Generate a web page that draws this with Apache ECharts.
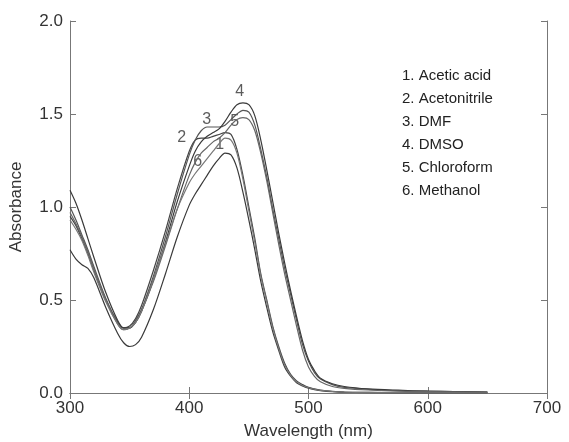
<!DOCTYPE html>
<html><head><meta charset="utf-8">
<script src="https://cdn.jsdelivr.net/npm/echarts@6/dist/echarts.min.js"></script>
<style>html,body{margin:0;padding:0;background:#fff}#c{width:569px;height:442px}</style>
</head><body><div id="c"></div>
<script>
const wavelengths = [300,305,310,315,320,330,340,345,350,355,360,370,380,390,400,405,410,415,420,425,430,435,440,445,450,455,460,465,470,475,480,485,490,495,500,505,510,520,530,550,575,600,650];
const aceticAcid = [0.77,0.72,0.69,0.67,0.62,0.46,0.32,0.27,0.25,0.26,0.30,0.45,0.64,0.84,1.01,1.07,1.12,1.17,1.22,1.26,1.29,1.28,1.21,1.08,0.93,0.77,0.60,0.46,0.33,0.23,0.14,0.09,0.055,0.038,0.026,0.018,0.013,0.007,0.004,0.002,0.001,0.001,0];
const acetonitrile = [0.95,0.90,0.83,0.75,0.66,0.50,0.38,0.35,0.36,0.40,0.47,0.66,0.87,1.10,1.30,1.36,1.37,1.37,1.38,1.39,1.40,1.39,1.31,1.17,1.00,0.83,0.64,0.50,0.36,0.25,0.16,0.10,0.065,0.045,0.030,0.022,0.016,0.009,0.005,0.003,0.002,0.001,0];
const dmf = [1.00,0.93,0.85,0.77,0.68,0.51,0.38,0.35,0.35,0.39,0.45,0.63,0.84,1.07,1.28,1.36,1.41,1.43,1.43,1.43,1.44,1.47,1.50,1.52,1.51,1.44,1.31,1.16,0.99,0.83,0.67,0.53,0.39,0.26,0.17,0.11,0.075,0.045,0.03,0.02,0.013,0.01,0.005];
const dmso = [1.09,1.02,0.93,0.83,0.73,0.54,0.39,0.35,0.35,0.38,0.44,0.61,0.81,1.03,1.22,1.30,1.35,1.38,1.40,1.42,1.46,1.51,1.55,1.56,1.55,1.49,1.36,1.20,1.03,0.86,0.70,0.55,0.41,0.28,0.18,0.12,0.08,0.05,0.035,0.022,0.015,0.01,0.005];
const chloroform = [0.97,0.91,0.84,0.76,0.67,0.50,0.37,0.34,0.35,0.38,0.44,0.60,0.79,0.99,1.17,1.24,1.29,1.32,1.35,1.37,1.40,1.44,1.47,1.48,1.47,1.41,1.29,1.14,0.97,0.80,0.64,0.50,0.36,0.23,0.14,0.09,0.06,0.035,0.025,0.016,0.01,0.008,0.004];
const methanol = [0.93,0.88,0.82,0.74,0.65,0.49,0.37,0.34,0.35,0.38,0.44,0.61,0.80,0.99,1.13,1.18,1.22,1.26,1.30,1.34,1.37,1.36,1.29,1.15,0.98,0.81,0.63,0.49,0.35,0.24,0.15,0.095,0.06,0.04,0.028,0.02,0.014,0.008,0.005,0.003,0.002,0.001,0];
const seriesNames = ['1. Acetic acid','2. Acetonitrile','3. DMF','4. DMSO','5. Chloroform','6. Methanol'];
const curveLabels = ['1','2','3','4','5','6'];
const curveLabelX = [425.5,393.7,414.6,442.3,438.1,407.1];
const curveLabelY = [1.333,1.371,1.468,1.618,1.457,1.242];
const xTicks = [300,400,500,600,700];
const yTicks = [0.0,0.5,1.0,1.5,2.0];

const allSeries = [aceticAcid, acetonitrile, dmf, dmso, chloroform, methanol];
const lineColors = ['#3a3a3a','#444','#555','#3a3a3a','#666','#777'];
const font = 'Liberation Sans, Arial, sans-serif';
const chart = echarts.init(document.getElementById('c'));
const series = allSeries.map((arr, i) => ({
  name: seriesNames[i], type: 'line', smooth: 0.3, symbol: 'none',
  lineStyle: {color: lineColors[i], width: 1.2},
  data: wavelengths.map((w, j) => [w, arr[j]])
}));
series.push({
  type: 'scatter', symbolSize: 0, silent: true,
  data: curveLabels.map((t, i) => [curveLabelX[i], curveLabelY[i], t]),
  label: {show: true, position: 'inside', formatter: p => p.data[2], color: '#333', fontSize: 16, fontFamily: font}
});
const axisCommon = {
  min: 300, max: 700, interval: 100, type: 'value',
  axisLine: {show: true, lineStyle: {color: '#777', width: 1}},
  axisTick: {show: true, inside: true, length: 6, lineStyle: {color: '#777'}},
  splitLine: {show: false}
};
chart.setOption({
  animation: false,
  backgroundColor: '#fff',
  grid: {left: 70, right: 22, top: 21, bottom: 49, containLabel: false, outerBoundsMode: 'none'},
  xAxis: [
    Object.assign({}, axisCommon, {
      position: 'bottom', name: 'Wavelength (nm)', nameLocation: 'middle', nameGap: 30,
      nameTextStyle: {fontSize: 17, color: '#333', fontFamily: font},
      axisLabel: {fontSize: 17, color: '#333', fontFamily: font, margin: 7}
    }),
    Object.assign({}, axisCommon, {position: 'top', axisLabel: {show: false}})
  ],
  yAxis: [
    {type: 'value', min: 0, max: 2, interval: 0.5, position: 'left',
     name: 'Absorbance', nameLocation: 'middle', nameGap: 45,
     nameTextStyle: {fontSize: 17, color: '#333', fontFamily: font},
     axisLine: {show: true, lineStyle: {color: '#777'}},
     axisTick: {show: true, inside: true, length: 6, lineStyle: {color: '#777'}},
     splitLine: {show: false},
     axisLabel: {fontSize: 17, color: '#333', fontFamily: font, margin: 7, formatter: v => v.toFixed(1)}},
    {type: 'value', min: 0, max: 2, interval: 0.5, position: 'right',
     axisLine: {show: true, lineStyle: {color: '#777'}},
     axisTick: {show: true, inside: true, length: 6, lineStyle: {color: '#777'}},
     splitLine: {show: false}, axisLabel: {show: false}}
  ],
  graphic: seriesNames.map((n, i) => ({
    type: 'text', left: 402, top: 68 + i * 23,
    style: {text: n, fontSize: 15, fill: '#222', fontFamily: font}
  })),
  series: series
});
</script></body></html>
